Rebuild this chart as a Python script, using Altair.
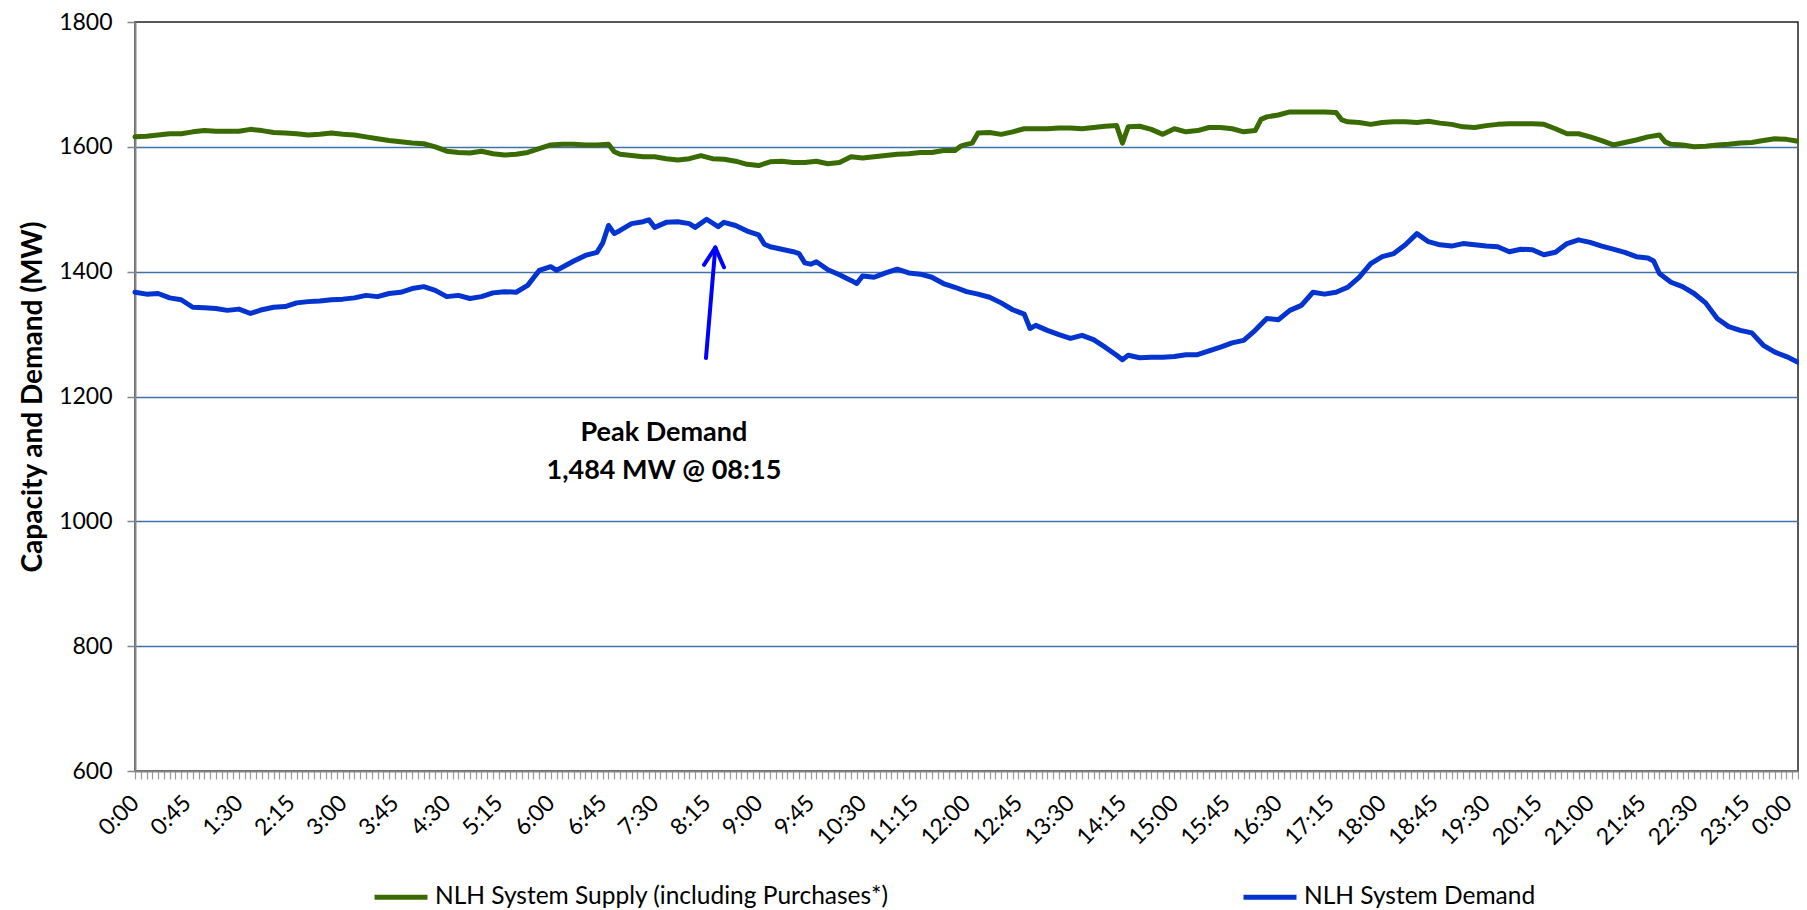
import json
import altair as alt
import pandas as pd

# ---------------- data ----------------
SERIES = ["NLH System Supply (including Purchases*)", "NLH System Demand"]
COLORS = ["#3a6b02", "#0434cf"]

# minutes after midnight
SUPPLY_TIME = [0, 10, 20, 30, 40, 50, 60, 70, 80, 90, 100, 110, 120, 130, 140, 150, 160, 170, 180, 190,
               200, 210, 220, 230, 240, 250, 260, 270, 280, 290, 300, 310, 320, 330, 340, 350, 360, 370,
               380, 390, 400, 410, 415, 420, 430, 440, 450, 460, 470, 480, 490, 500, 510, 520, 530, 540,
               550, 560, 570, 580, 590, 600, 610, 620, 630, 640, 650, 660, 670, 680, 690, 700, 710, 715,
               720, 725, 730, 740, 750, 760, 770, 780, 790, 800, 810, 820, 830, 840, 850, 855, 860, 870,
               880, 890, 900, 910, 920, 930, 940, 950, 960, 970, 975, 980, 990, 1000, 1010, 1020, 1030,
               1040, 1045, 1050, 1060, 1070, 1080, 1090, 1100, 1110, 1120, 1130, 1140, 1150, 1160, 1170,
               1180, 1190, 1200, 1210, 1220, 1230, 1240, 1250, 1260, 1270, 1280, 1290, 1300, 1310, 1320,
               1325, 1330, 1340, 1350, 1360, 1370, 1380, 1390, 1400, 1410, 1420, 1430, 1440]
SUPPLY_MW = [1616, 1617, 1619, 1621, 1621, 1624, 1626, 1625, 1625, 1625, 1628, 1626, 1623, 1622, 1621, 1619,
             1620, 1622, 1620, 1619, 1616, 1613, 1610, 1608, 1606, 1605, 1600, 1593, 1591, 1590, 1593, 1589,
             1587, 1588, 1591, 1597, 1603, 1604, 1604, 1603, 1603, 1604, 1592, 1588, 1586, 1584, 1584, 1581,
             1579, 1581, 1586, 1581, 1580, 1577, 1572, 1570, 1576, 1577, 1575, 1575, 1577, 1573, 1575, 1584,
             1582, 1584, 1586, 1588, 1589, 1591, 1591, 1594, 1594, 1601, 1604, 1606, 1622, 1623, 1620, 1624,
             1629, 1629, 1629, 1630, 1630, 1629, 1631, 1633, 1634, 1606, 1632, 1633, 1628, 1620, 1629, 1624,
             1626, 1631, 1631, 1629, 1624, 1626, 1644, 1648, 1651, 1656, 1656, 1656, 1656, 1655, 1643, 1640,
             1639, 1636, 1639, 1640, 1640, 1639, 1641, 1638, 1636, 1632, 1631, 1634, 1636, 1637, 1637, 1637,
             1636, 1629, 1621, 1621, 1616, 1610, 1603, 1607, 1611, 1616, 1619, 1608, 1604, 1603, 1600, 1601,
             1603, 1604, 1606, 1607, 1610, 1613, 1612, 1609]

DEMAND_TIME = [0, 10, 20, 30, 40, 50, 60, 70, 80, 90, 100, 110, 120, 130, 140, 150, 160, 170, 180, 190,
               200, 210, 220, 230, 240, 250, 260, 270, 280, 290, 300, 310, 320, 330, 340, 350, 360, 365,
               370, 380, 390, 400, 405, 410, 415, 420, 430, 440, 445, 450, 460, 470, 480, 485, 495, 500,
               505, 510, 520, 530, 540, 545, 550, 560, 570, 575, 580, 585, 590, 600, 610, 620, 625, 630,
               640, 650, 660, 670, 680, 690, 700, 710, 720, 730, 740, 750, 760, 770, 775, 780, 790, 800,
               810, 820, 830, 840, 850, 855, 860, 870, 880, 890, 900, 910, 920, 930, 940, 950, 960, 970,
               980, 990, 1000, 1010, 1020, 1030, 1040, 1050, 1060, 1070, 1080, 1090, 1100, 1110, 1120,
               1130, 1140, 1150, 1160, 1170, 1180, 1190, 1200, 1210, 1220, 1230, 1240, 1250, 1260, 1270,
               1280, 1290, 1300, 1310, 1315, 1320, 1330, 1340, 1350, 1360, 1370, 1380, 1390, 1400, 1410,
               1420, 1430, 1440]
DEMAND_MW = [1367, 1364, 1365, 1358, 1355, 1343, 1342, 1341, 1338, 1340, 1333, 1339, 1343, 1344, 1350, 1352,
             1353, 1355, 1356, 1358, 1362, 1360, 1365, 1367, 1373, 1376, 1370, 1360, 1362, 1357, 1360, 1366,
             1368, 1367, 1378, 1402, 1408, 1402, 1407, 1417, 1426, 1431, 1446, 1474, 1461, 1466, 1477, 1480,
             1483, 1471, 1479, 1480, 1477, 1471, 1484, 1478, 1472, 1479, 1474, 1465, 1459, 1444, 1440, 1436,
             1432, 1429, 1414, 1412, 1416, 1403, 1395, 1386, 1381, 1393, 1391, 1398, 1404, 1398, 1396, 1391,
             1381, 1375, 1368, 1364, 1359, 1350, 1339, 1332, 1309, 1314, 1306, 1299, 1293, 1298, 1291, 1279,
             1266, 1259, 1266, 1262, 1263, 1263, 1264, 1267, 1267, 1273, 1279, 1286, 1290, 1306, 1325, 1323,
             1338, 1346, 1367, 1364, 1367, 1375, 1391, 1413, 1424, 1429, 1443, 1461, 1448, 1443, 1441, 1445,
             1443, 1441, 1440, 1432, 1436, 1435, 1427, 1431, 1445, 1451, 1447, 1441, 1436, 1431, 1424, 1422,
             1417, 1397, 1383, 1376, 1365, 1350, 1325, 1312, 1306, 1302, 1282, 1271, 1264, 1255]

TICK_LABELS = ["0:00", "0:45", "1:30", "2:15", "3:00", "3:45", "4:30", "5:15", "6:00", "6:45", "7:30",
               "8:15", "9:00", "9:45", "10:30", "11:15", "12:00", "12:45", "13:30", "14:15", "15:00",
               "15:45", "16:30", "17:15", "18:00", "18:45", "19:30", "20:15", "21:00", "21:45", "22:30",
               "23:15", "0:00"]
LABEL_STEP = 45      # minutes between labels
MINOR_STEP = 5       # minutes between tick marks
DAY_MINUTES = 1440
Y_TICKS = [600, 800, 1000, 1200, 1400, 1600, 1800]
Y_TITLE = "Capacity and Demand (MW)"

ANNOT_LINES = ["Peak Demand", "1,484 MW @ 08:15"]
ANNOT_T = [458, 458]
ANNOT_MW = [1141, 1080]

# arrow segments: shaft, left barb, right barb (all ending at the tip)
ARROW_T = [494.4, 492.7, 510.0]
ARROW_MW = [1261.5, 1411.0, 1407.0]
ARROW_T2 = [502.5, 502.5, 502.5]
ARROW_MW2 = [1438.6, 1438.6, 1438.6]

# ---------------- tables ----------------
lines_df = pd.DataFrame({
    "t": SUPPLY_TIME + DEMAND_TIME,
    "mw": SUPPLY_MW + DEMAND_MW,
    "series": [SERIES[0]] * len(SUPPLY_TIME) + [SERIES[1]] * len(DEMAND_TIME),
})
annot_df = pd.DataFrame({"t": ANNOT_T, "mw": ANNOT_MW, "label": ANNOT_LINES})
arrow_df = pd.DataFrame({"t": ARROW_T, "mw": ARROW_MW, "t2": ARROW_T2, "mw2": ARROW_MW2})

FONT = "Lato"
label_expr = (f"datum.value % {LABEL_STEP} === 0 ? "
              f"{json.dumps(TICK_LABELS)}[round(datum.value / {LABEL_STEP})] : ''")

X_AXIS = alt.Axis(
    values=list(range(0, DAY_MINUTES + 1, MINOR_STEP)),
    labelExpr=label_expr,
    labelAngle=-45, labelAlign="right", labelBaseline="middle",
    labelOverlap=False, labelFlush=False, labelBound=False,
    labelFont=FONT, labelFontSize=23, labelColor="#000000", labelPadding=20,
    labelOffset={"condition": {"test": f"datum.value === {DAY_MINUTES}", "value": -10}, "value": 0},
    tickSize=8, tickColor="#9a9a9a", tickWidth=1.2,
    domainColor="#868686", domainWidth=2, grid=False, title=None,
)
Y_AXIS = alt.Axis(
    values=Y_TICKS, format="d",
    labelFont=FONT, labelFontSize=23, labelColor="#000000", labelPadding=15,
    tickSize=8, tickColor="#868686", tickWidth=1.5,
    domainColor="#868686", domainWidth=2,
    grid=True,
    gridColor={"condition": {"test": f"datum.value === {Y_TICKS[-1]} || datum.value === {Y_TICKS[0]}",
                             "value": "transparent"}, "value": "#4470a8"},
    gridWidth=1.3,
    title=Y_TITLE, titleFont=FONT, titleFontSize=28, titleFontWeight="bold", titleColor="#000000",
    titleAngle=-90, titleAlign="center", titleBaseline="middle", titleX=-102, titleY=374.5,
)
X_SCALE = alt.Scale(domain=[0, DAY_MINUTES], nice=False, zero=False)
Y_SCALE = alt.Scale(domain=[Y_TICKS[0], Y_TICKS[-1]], nice=False, zero=False)


def xq():
    return alt.X("t:Q", scale=X_SCALE, axis=X_AXIS)


def yq():
    return alt.Y("mw:Q", scale=Y_SCALE, axis=Y_AXIS)


lines = alt.Chart(lines_df).mark_line(strokeWidth=5, strokeJoin="round", strokeCap="round").encode(
    x=xq(),
    y=yq(),
    color=alt.Color(
        "series:N",
        scale=alt.Scale(domain=SERIES, range=COLORS),
        legend=alt.Legend(
            orient="none", legendX=237, legendY=846, direction="horizontal", columns=2,
            symbolType="stroke", symbolSize=2809, symbolStrokeWidth=5,
            labelFont=FONT, labelFontSize=24.5, labelColor="#000000", labelOffset=5, labelLimit=0,
            columnPadding=344, title=None, padding=0,
        ),
    ),
)

arrow = alt.Chart(arrow_df).mark_rule(color="#0000ff", strokeWidth=4, strokeCap="round").encode(
    x=xq(), y=yq(), x2="t2:Q", y2="mw2:Q"
)

annot = alt.Chart(annot_df).mark_text(
    font=FONT, fontSize=27, fontWeight="bold", color="#000000", align="center", baseline="middle"
).encode(x=xq(), y=yq(), text="label:N")

chart = alt.layer(lines, arrow, annot).properties(
    width=1663, height=749,
    padding={"left": 127, "top": 14, "right": 1, "bottom": 139},
    autosize=alt.AutoSizeParams(type="none"),
    background="#ffffff",
).configure_view(stroke="#222222", strokeWidth=1.5)

chart.save("out.html", embed_options={"renderer": "svg", "actions": False})
